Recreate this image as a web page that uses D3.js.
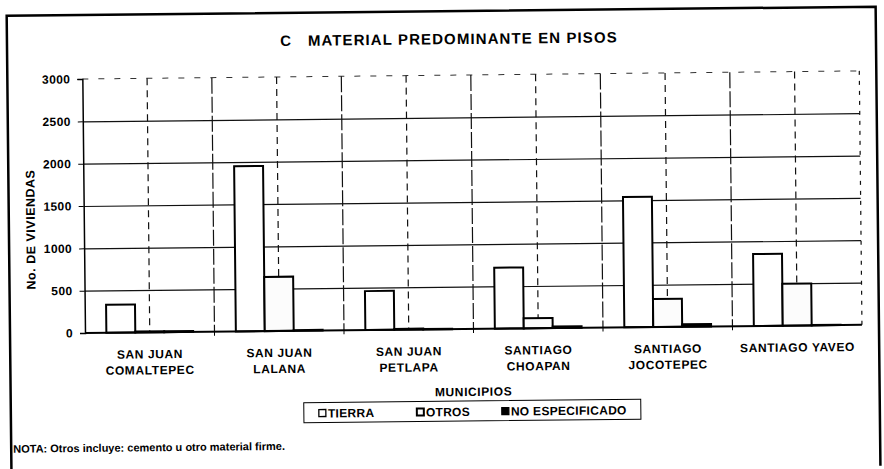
<!DOCTYPE html>
<html lang="es">
<head>
    <meta charset="UTF-8">
    <title>Material predominante en pisos</title>
    <script src="https://d3js.org/d3.v7.min.js"></script>
    <style>
        body {
            margin: 0;
            background: #fff;
        }
        svg {
            font-family: "Liberation Sans", Arial, sans-serif;
            font-weight: bold;
            fill: #000;
        }
        .grid line {
            stroke: #111;
            stroke-width: 1.2;
        }
        .grid path {
            stroke: none;
        }
        .bar {
            stroke: #000;
            stroke-width: 2;
        }
    </style>
</head>
<body>
    <div id="chart"></div>
    <script>
        // Data
        const municipios = ["SAN JUAN COMALTEPEC", "SAN JUAN LALANA", "SAN JUAN PETLAPA",
            "SANTIAGO CHOAPAN", "SANTIAGO JOCOTEPEC", "SANTIAGO YAVEO"];
        const labelLines = [["SAN JUAN", "COMALTEPEC"], ["SAN JUAN", "LALANA"], ["SAN JUAN", "PETLAPA"],
            ["SANTIAGO", "CHOAPAN"], ["SANTIAGO", "JOCOTEPEC"], ["SANTIAGO YAVEO"]];
        const seriesNames = ["TIERRA", "OTROS", "NO ESPECIFICADO"];
        const tierra = [330, 1950, 460, 720, 1540, 850];
        const otros = [12, 640, 10, 120, 330, 495];
        const noEspecificado = [10, 8, 5, 18, 30, 5];
        const yTicks = [0, 500, 1000, 1500, 2000, 2500, 3000];
        const seriesFill = ["#fff", "#fcfcfc", "#000"];

        const data = municipios.map((m, i) => ({
            municipio: m,
            values: [tierra[i], otros[i], noEspecificado[i]]
        }));

        const W = 884, H = 469;
        const margin = { left: 85, right: 22, top: 79, bottom: 136 };
        const x0Range = [margin.left, W - margin.right];
        const yRange = [H - margin.bottom, margin.top];

        const svg = d3.select("#chart").append("svg")
            .attr("width", W)
            .attr("height", H);

        // whole page is slightly tilted in the scan
        const root = svg.append("g")
            .attr("transform", `rotate(-0.6, ${margin.left}, ${yRange[0]})`);

        // outer frame
        root.append("path")
            .attr("d", `M10,${H + 5} V15 H879 V${H + 5}`)
            .attr("fill", "none")
            .attr("stroke", "#000")
            .attr("stroke-width", 2.5);

        // title
        root.append("text")
            .attr("x", 452)
            .attr("y", 48)
            .attr("text-anchor", "middle")
            .attr("font-size", 15)
            .attr("letter-spacing", 1.1)
            .attr("xml:space", "preserve")
            .text("C   MATERIAL PREDOMINANTE EN PISOS");

        const x0 = d3.scaleBand()
            .domain(municipios)
            .range(x0Range)
            .paddingInner(0.33)
            .paddingOuter(0.165);

        const x1 = d3.scaleBand()
            .domain(seriesNames)
            .range([0, x0.bandwidth()]);

        const y = d3.scaleLinear()
            .domain([0, 3000])
            .range(yRange);

        // horizontal gridlines
        root.append("g")
            .attr("class", "grid")
            .attr("transform", `translate(${margin.left},0)`)
            .call(d3.axisLeft(y).tickValues(yTicks.slice(1, -1)).tickSize(-(x0Range[1] - x0Range[0])).tickFormat(""));

        // top line (3000) is faint and dashed
        root.append("line")
            .attr("x1", x0Range[0]).attr("x2", x0Range[1])
            .attr("y1", y(3000)).attr("y2", y(3000))
            .attr("stroke", "#333")
            .attr("stroke-dasharray", "6,10");

        // vertical gridlines at group edges and group centres
        const step = x0.step();
        const vLines = [];
        municipios.forEach((m, i) => {
            const left = x0Range[0] + i * step;
            vLines.push({ x: left + step / 2, dash: "7,5" });
            if (i > 0) vLines.push({ x: left, dash: "16,3" });
        });
        vLines.push({ x: x0Range[1], dash: "4,6" });
        root.append("g").selectAll("line")
            .data(vLines)
            .join("line")
            .attr("x1", d => d.x).attr("x2", d => d.x)
            .attr("y1", y(3000)).attr("y2", y(0))
            .attr("stroke", "#111")
            .attr("stroke-width", 1.2)
            .attr("stroke-dasharray", d => d.dash);

        // bars
        const groups = root.append("g").selectAll("g")
            .data(data)
            .join("g")
            .attr("transform", d => `translate(${x0(d.municipio)},0)`);

        groups.selectAll("rect")
            .data(d => d.values.map((v, i) => ({ key: seriesNames[i], value: v, idx: i })))
            .join("rect")
            .attr("class", "bar")
            .attr("x", d => x1(d.key))
            .attr("y", d => y(d.value))
            .attr("width", x1.bandwidth())
            .attr("height", d => y(0) - y(d.value))
            .attr("fill", d => seriesFill[d.idx]);

        // y axis
        const yAxis = root.append("g")
            .attr("transform", `translate(${margin.left},0)`)
            .call(d3.axisLeft(y).tickValues(yTicks).tickFormat(d3.format("d")).tickSize(5).tickPadding(7));
        yAxis.select(".domain").attr("stroke", "#000").attr("stroke-width", 1.5);
        yAxis.selectAll(".tick line").attr("stroke", "#000");
        yAxis.selectAll("text")
            .attr("font-size", 12)
            .attr("letter-spacing", 0.4)
            .attr("font-weight", "bold")
            .attr("font-family", "Liberation Sans, Arial, sans-serif");

        // x axis baseline with small ticks at group edges
        root.append("line")
            .attr("x1", x0Range[0]).attr("x2", x0Range[1])
            .attr("y1", y(0)).attr("y2", y(0))
            .attr("stroke", "#000").attr("stroke-width", 2);
        root.append("g").selectAll("line")
            .data(d3.range(1, municipios.length))
            .join("line")
            .attr("x1", i => x0Range[0] + i * step).attr("x2", i => x0Range[0] + i * step)
            .attr("y1", y(0)).attr("y2", y(0) + 4)
            .attr("stroke", "#000");

        // category labels
        const catLabels = root.append("g").selectAll("text")
            .data(data)
            .join("text")
            .attr("text-anchor", "middle")
            .attr("font-size", 12)
            .attr("letter-spacing", 0.6)
            .attr("x", d => x0(d.municipio) + x0.bandwidth() / 2)
            .attr("y", y(0) + 26);
        catLabels.selectAll("tspan")
            .data((d, i) => labelLines[i])
            .join("tspan")
            .attr("x", function () { return d3.select(this.parentNode).attr("x"); })
            .attr("dy", (d, i) => i === 0 ? 0 : 16)
            .text(d => d);

        // axis titles
        root.append("text")
            .attr("text-anchor", "middle")
            .attr("font-size", 12)
            .attr("letter-spacing", 0.6)
            .attr("x", 473)
            .attr("y", y(0) + 67)
            .text("MUNICIPIOS");

        root.append("text")
            .attr("text-anchor", "middle")
            .attr("font-size", 12.5)
            .attr("letter-spacing", 0.5)
            .attr("transform", `translate(36, 229) rotate(-90)`)
            .text("No. DE VIVIENDAS");

        // legend
        const legend = root.append("g").attr("transform", `translate(303, ${y(0) + 72})`);
        legend.append("rect")
            .attr("width", 337).attr("height", 20)
            .attr("fill", "none")
            .attr("stroke", "#000")
            .attr("stroke-width", 1);
        const legendX = [15, 113, 198];
        const item = legend.selectAll("g.item")
            .data(seriesNames)
            .join("g")
            .attr("class", "item")
            .attr("transform", (d, i) => `translate(${legendX[i]}, 0)`);
        item.append("rect")
            .attr("x", 0).attr("y", 7)
            .attr("width", 7).attr("height", 7)
            .attr("fill", (d, i) => seriesFill[i])
            .attr("stroke", "#000")
            .attr("stroke-width", (d, i) => i === 1 ? 2 : 1.3);
        item.append("text")
            .attr("x", 9).attr("y", 15)
            .attr("font-size", 12)
            .attr("letter-spacing", 0.3)
            .text(d => d);

        // footnote
        root.append("text")
            .attr("x", 12)
            .attr("y", 452)
            .attr("font-size", 11)
            .text("NOTA: Otros incluye: cemento u otro material firme.");
    </script>
</body>
</html>
